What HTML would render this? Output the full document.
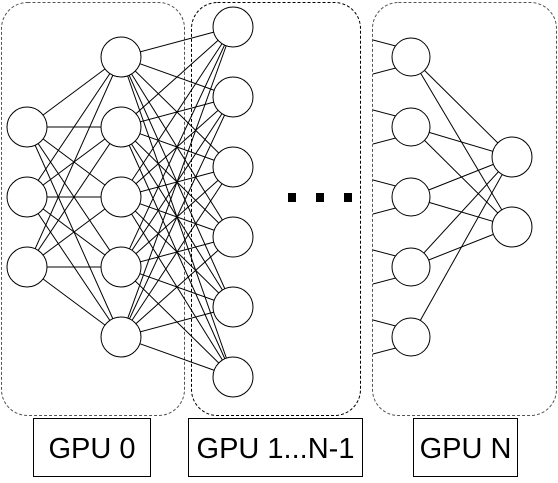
<!DOCTYPE html>
<html><head><style>body{margin:0;background:#fff}</style></head><body>
<svg width="558" height="478" xmlns="http://www.w3.org/2000/svg">
<g fill="none" stroke="#555" stroke-dasharray="3,2">
<rect x="1.5" y="2.5" width="183" height="413" rx="26"/>
<rect x="191.5" y="2.5" width="169" height="413" rx="26" stroke="#000"/>
<rect x="372.5" y="2.5" width="184" height="413" rx="26"/>
</g>
<g id="lines" stroke="#000" stroke-width="1"></g>
<g id="nodes" fill="#fff" stroke="#000" stroke-width="1"></g>
<g fill="#000"><rect x="288" y="193" width="8" height="9"/><rect x="316" y="193" width="8" height="9"/><rect x="344" y="193" width="8" height="9"/></g>
<g fill="#fff" stroke="#000"><rect x="33.5" y="418.5" width="117" height="58"/><rect x="188.5" y="418.5" width="174" height="58"/><rect x="413.5" y="418.5" width="104" height="58"/></g>
<g font-family="Liberation Sans, sans-serif" font-size="29" text-anchor="middle" fill="#000">
<text x="92" y="458">GPU 0</text><text x="275.5" y="458">GPU 1...N-1</text><text x="465.5" y="458">GPU N</text></g>
<script>
var ns="http://www.w3.org/2000/svg";
var A=[[27,127],[27,197],[27,267]],B=[[121,57],[121,127],[121,197],[121,267],[121,337]],
C=[[233,27],[233,97],[233,167],[233,237],[233,307],[233,377]],
D=[[411,57],[411,127],[411,197],[411,267],[411,337]],E=[[512,157],[512,227]];
var L=document.getElementById('lines'),N=document.getElementById('nodes');
function ln(a,b,c,d){var e=document.createElementNS(ns,'line');e.setAttribute('x1',a);e.setAttribute('y1',b);e.setAttribute('x2',c);e.setAttribute('y2',d);L.appendChild(e);}
A.forEach(a=>B.forEach(b=>ln(a[0],a[1],b[0],b[1])));
B.forEach(a=>C.forEach(b=>ln(a[0],a[1],b[0],b[1])));
D.forEach((d,i)=>{ln(373,d[1]-17,d[0],d[1]-7);ln(373,d[1]+17,d[0],d[1]+7);
E.forEach((e,j)=>{if(!(i==4&&j==1))ln(d[0],d[1],e[0],e[1]);});});
[A,B,C,D,E].forEach(g=>g.forEach(p=>{var c=document.createElementNS(ns,'circle');c.setAttribute('cx',p[0]);c.setAttribute('cy',p[1]);c.setAttribute('r',g===D?19:20);N.appendChild(c);}));
</script>
</svg>
</body></html>
